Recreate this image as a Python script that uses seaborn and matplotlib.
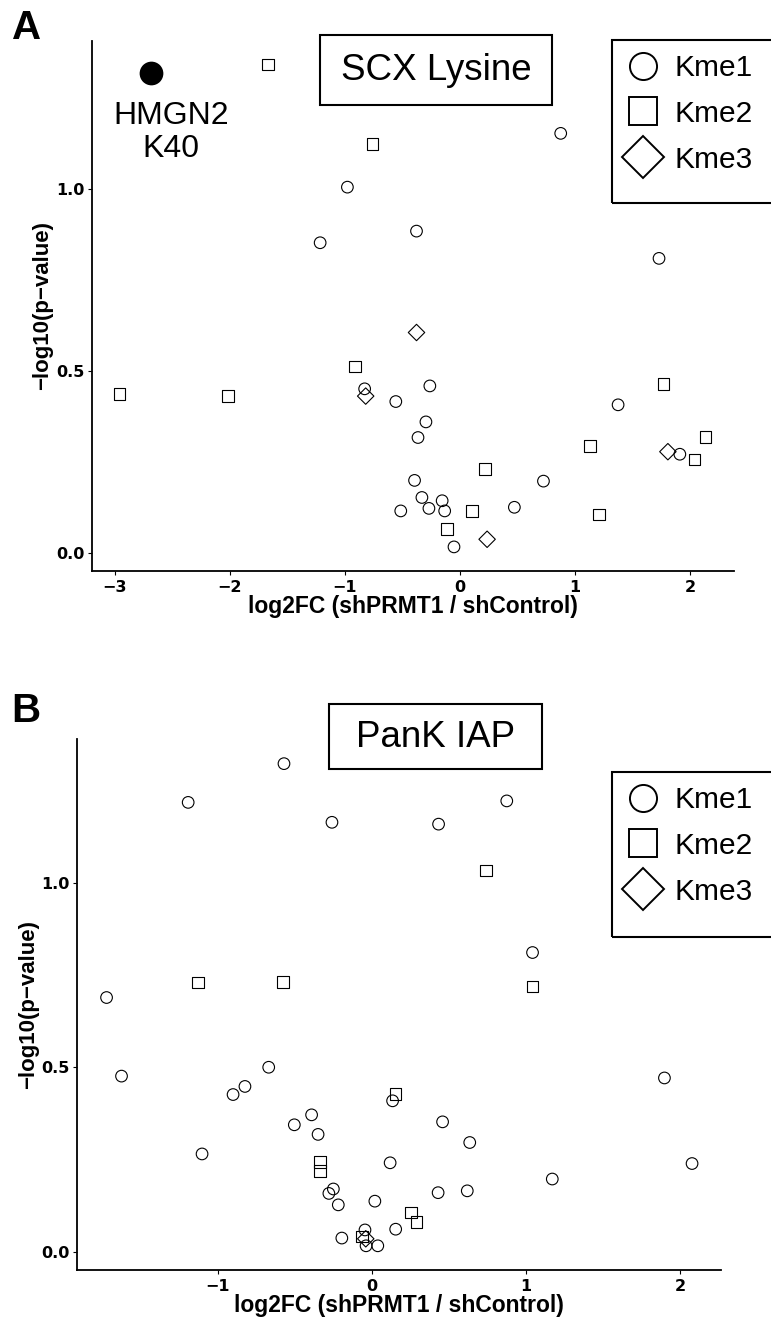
import numpy as np
import pandas as pd
import matplotlib
matplotlib.use("Agg")
import matplotlib.pyplot as plt
from matplotlib.lines import Line2D
from matplotlib.patches import Rectangle
from matplotlib.ticker import FormatStrFormatter
import seaborn as sns

# =========================
# DATA
# =========================

# Panel A - SCX Lysine
scx_kme1_x = [-0.979, -1.216, -0.378, 0.876, 1.731, -0.829, -0.558, -0.262, -0.296,
              -0.365, -0.395, -0.331, -0.515, -0.270, -0.155, -0.133, -0.052, 0.473,
              0.726, 1.375, 1.912]
scx_kme1_y = [1.006, 0.853, 0.885, 1.154, 0.810, 0.451, 0.416, 0.459, 0.360,
              0.317, 0.199, 0.152, 0.115, 0.122, 0.143, 0.115, 0.016, 0.125,
              0.197, 0.407, 0.271]
scx_kme2_x = [-1.667, -0.760, -2.960, -2.020, -0.915, -0.112, 0.107, 0.219, 1.130,
              1.211, 1.770, 2.040, 2.135]
scx_kme2_y = [1.343, 1.124, 0.437, 0.431, 0.512, 0.066, 0.114, 0.230, 0.293,
              0.105, 0.464, 0.256, 0.318]
scx_kme3_x = [-0.378, -0.820, 0.236, 1.808]
scx_kme3_y = [0.606, 0.431, 0.037, 0.278]

# highlighted site
hmgn2_x = [-2.69]
hmgn2_y = [1.321]
hmgn2_label = "HMGN2\nK40"

# Panel B - PanK IAP
iap_kme1_x = [-0.570, -1.191, -0.259, 0.432, 0.874, 1.041, -1.720, -1.623, -0.669,
              -0.823, -0.900, 0.134, -0.391, -0.503, -0.349, 0.458, 0.634, -1.101,
              0.118, 2.075, 1.169, 1.896, -0.250, -0.279, -0.218, 0.019, 0.429,
              0.618, 0.154, -0.195, -0.045, -0.038, 0.038]
iap_kme1_y = [1.323, 1.218, 1.164, 1.159, 1.222, 0.811, 0.689, 0.476, 0.500,
              0.448, 0.426, 0.409, 0.371, 0.344, 0.318, 0.352, 0.296, 0.265,
              0.241, 0.239, 0.197, 0.471, 0.170, 0.158, 0.127, 0.137, 0.160,
              0.165, 0.061, 0.037, 0.059, 0.016, 0.016]
iap_kme2_x = [0.740, -1.127, -0.576, 1.041, 0.154, -0.336, -0.336, 0.253, 0.288, -0.066]
iap_kme2_y = [1.033, 0.730, 0.731, 0.719, 0.428, 0.244, 0.219, 0.106, 0.080, 0.041]
iap_kme3_x = [-0.040]
iap_kme3_y = [0.035]

MODS = ["Kme1", "Kme2", "Kme3"]
MARKERS = {"Kme1": "o", "Kme2": "s", "Kme3": "D"}

X_LABEL = "log2FC (shPRMT1 / shControl)"
Y_LABEL = "\u2212log10(p\u2212value)"

W, H = 771, 1325  # figure size in px


def make_df(xs, ys):
    frames = []
    for mod, x, y in zip(MODS, xs, ys):
        frames.append(pd.DataFrame({"log2fc": x, "nlogp": y, "mod": mod}))
    return pd.concat(frames, ignore_index=True)


def px_axes(fig, left, top, right, bottom):
    return fig.add_axes([left / W, 1 - bottom / H, (right - left) / W, (bottom - top) / H])


def px_box(fig, left, top, right, bottom, lw=1.5):
    fig.add_artist(Rectangle((left / W, 1 - bottom / H), (right - left) / W, (bottom - top) / H,
                             transform=fig.transFigure, fill=False, lw=lw,
                             edgecolor="black", clip_on=True))


def draw_panel(ax, df, xlim, ylim, xticks):
    sns.scatterplot(data=df, x="log2fc", y="nlogp", style="mod", style_order=MODS,
                    markers=MARKERS, s=70, facecolor="none", edgecolor="black",
                    linewidth=0.8, legend=False, ax=ax)
    ax.set_xlim(*xlim)
    ax.set_ylim(*ylim)
    ax.set_xticks(xticks)
    ax.set_yticks([0.0, 0.5, 1.0])
    ax.yaxis.set_major_formatter(FormatStrFormatter("%.1f"))
    ax.set_xlabel(X_LABEL, fontsize=16.5, fontweight="bold", labelpad=0)
    ax.set_ylabel(Y_LABEL, fontsize=16, fontweight="bold", labelpad=2)
    ax.tick_params(direction="out", length=3, width=0.8, labelsize=11.5, pad=2.5, color="black")
    ax.tick_params(axis="x", pad=3.5)
    for lab in ax.get_xticklabels() + ax.get_yticklabels():
        lab.set_fontweight("bold")
        lab.set_fontfamily("DejaVu Sans")
    sns.despine(ax=ax)
    for side in ["left", "bottom"]:
        ax.spines[side].set_linewidth(1.3)
        ax.spines[side].set_color("black")


def add_legend(fig, left, top):
    handles = [
        Line2D([], [], linestyle="none", marker="o", markersize=19.5, mfc="none", mec="black", mew=1.4),
        Line2D([], [], linestyle="none", marker="s", markersize=20, mfc="none", mec="black", mew=1.4),
        Line2D([], [], linestyle="none", marker="D", markersize=21, mfc="none", mec="black", mew=1.4),
    ]
    fig.legend(handles, MODS, loc="upper left", bbox_to_anchor=(left / W, 1 - top / H),
               bbox_transform=fig.transFigure, frameon=False, fontsize=21.5,
               handlelength=1.2, handletextpad=0.45, labelspacing=0.6,
               borderpad=0, borderaxespad=0)


# =========================
# FIGURE
# =========================

sns.set_style("ticks")
plt.rcParams["font.family"] = ["Liberation Sans", "DejaVu Sans"]
plt.rcParams["text.color"] = "black"
plt.rcParams["axes.labelcolor"] = "black"
plt.rcParams["xtick.color"] = "black"
plt.rcParams["ytick.color"] = "black"

fig = plt.figure(figsize=(W / 100, H / 100), dpi=100)

# ---- panel A ----
scx_df = make_df([scx_kme1_x, scx_kme2_x, scx_kme3_x], [scx_kme1_y, scx_kme2_y, scx_kme3_y])
ax_a = px_axes(fig, 92, 40.7, 734, 570.7)
draw_panel(ax_a, scx_df, (-3.2, 2.383), (-0.0495, 1.409), [-3, -2, -1, 0, 1, 2])
sns.scatterplot(x=hmgn2_x, y=hmgn2_y, s=250, color="black", edgecolor="black",
                legend=False, ax=ax_a)
ax_a.text(-2.513, 1.157, hmgn2_label, ha="center", va="center", fontsize=23,
          linespacing=1.12)

# ---- panel B ----
iap_df = make_df([iap_kme1_x, iap_kme2_x, iap_kme3_x], [iap_kme1_y, iap_kme2_y, iap_kme3_y])
ax_b = px_axes(fig, 77.4, 739.3, 720.6, 1270)
draw_panel(ax_b, iap_df, (-1.909, 2.26), (-0.0496, 1.389), [-1, 0, 1, 2])

# title boxes
px_box(fig, 320, 34.7, 552.2, 105.3)
fig.text(436 / W, 1 - 70 / H, "SCX Lysine", ha="center", va="center", fontsize=26.5)
px_box(fig, 329.4, 704.3, 542.3, 769.3)
fig.text(436 / W, 1 - 737 / H, "PanK IAP", ha="center", va="center", fontsize=26.5)

# legends (frame runs past the right edge)
px_box(fig, 612, 40, 790, 202.7)
add_legend(fig, 625.5, 54)
px_box(fig, 612.4, 772.3, 790, 936.7)
add_legend(fig, 625.5, 786)

# panel letters
fig.text(12 / W, 1 - 39 / H, "A", ha="left", va="baseline", fontsize=29, fontweight="bold")
fig.text(11 / W, 1 - 722 / H, "B", ha="left", va="baseline", fontsize=29, fontweight="bold")

fig.savefig("out.png", dpi=100)
print("saved out.png")
